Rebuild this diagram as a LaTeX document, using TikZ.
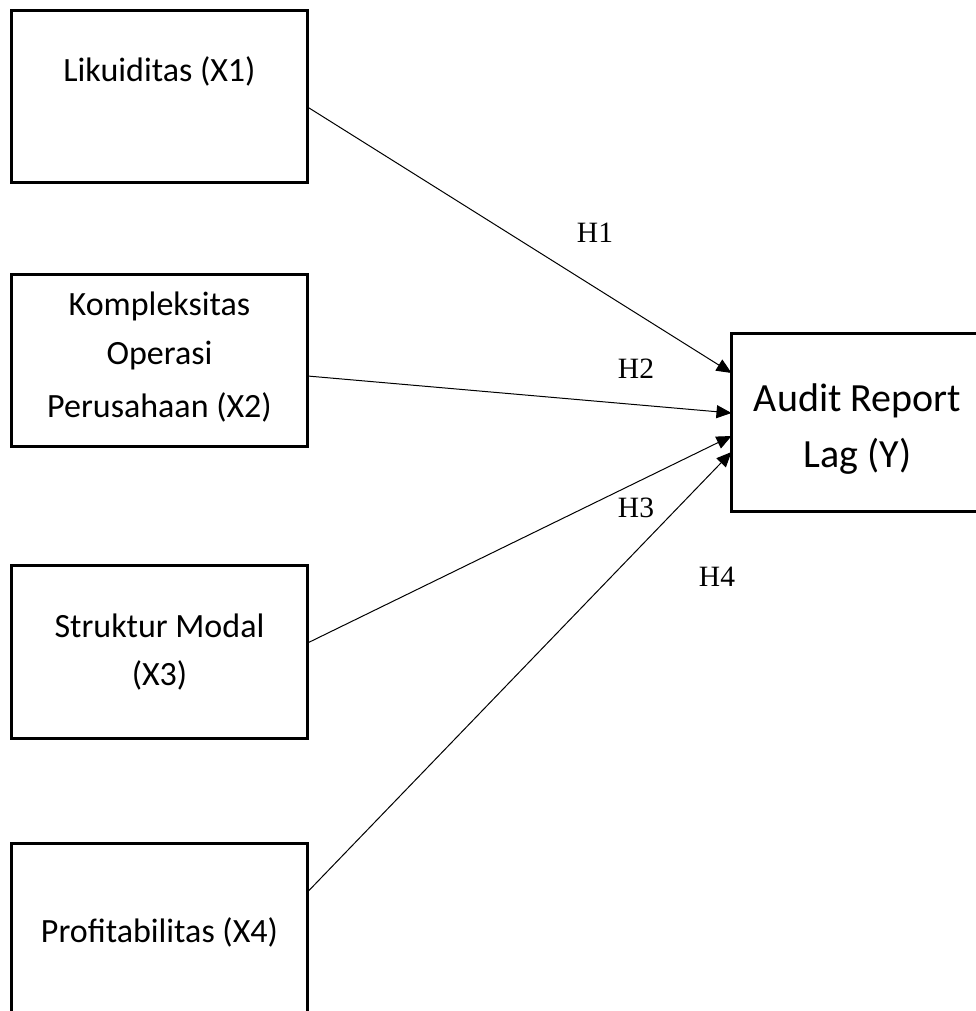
\documentclass[tikz,border=0pt]{standalone}
\usepackage{fontspec}
\setmainfont{Carlito}
\newfontfamily\tnr{Liberation Serif}
\usetikzlibrary{arrows.meta}
\begin{document}
\begin{tikzpicture}[x=1pt,y=-1pt,
  varbox/.style={draw,line width=3pt,minimum width=296pt,minimum height=172pt,inner sep=0pt,outer sep=0pt},
  boxtext/.style={font=\fontsize{34}{40}\selectfont,anchor=base,inner sep=0pt},
  ytext/.style={font=\fontsize{40}{46}\selectfont,anchor=base,inner sep=0pt},
  hlabel/.style={font=\tnr\fontsize{29.5}{34}\selectfont,anchor=base,inner sep=0pt},
  link/.style={line width=1pt,-{Triangle[length=15pt,width=13pt]}}]
\useasboundingbox (0,0) rectangle (976,1011);
\clip (0,0) rectangle (976,1011);
\fill[white] (0,0) rectangle (976,1011);
% boxes
\node[varbox] (x1) at (159.5,96.5) {};
\node[varbox] (x2) at (159.5,360.5) {};
\node[varbox,minimum height=173pt] (x3) at (159.5,652) {};
\node[varbox] (x4) at (159.5,929.5) {};
\node[varbox,minimum width=260pt,minimum height=178pt] (y) at (861.5,422.5) {};
% texts
\node[boxtext] (t1) at (159.5,82) {Likuiditas (X1)};
\node[boxtext] (t2a) at (159.5,315) {Kompleksitas};
\node[boxtext] (t2b) at (159.5,364) {Operasi};
\node[boxtext] (t2c) at (159.5,417) {Perusahaan (X2)};
\node[boxtext] (t3a) at (159.5,637) {Struktur Modal};
\node[boxtext] (t3b) at (159.5,685) {(X3)};
\node[boxtext] (t4) at (159.5,942) {Profitabilitas (X4)};
\node[ytext] (ta) at (857.5,411) {Audit Report};
\node[ytext] (tb) at (857.5,467) {Lag (Y)};
% connectors
\draw[link] ([yshift=-10.5pt]x1.east) -- ([yshift=49.5pt]y.west);
\draw[link] ([yshift=-15.5pt]x2.east) -- ([yshift=9.5pt]y.west);
\draw[link] ([yshift=9pt]x3.east) -- ([yshift=-13.5pt]y.west);
\draw[link] ([yshift=37.5pt]x4.east) -- ([yshift=-29.5pt]y.west);
% labels
\node[hlabel] (h1) at (595,242) {H1};
\node[hlabel] (h2) at (636,378) {H2};
\node[hlabel] (h3) at (636,517) {H3};
\node[hlabel] (h4) at (717,586) {H4};
\end{tikzpicture}
\end{document}
